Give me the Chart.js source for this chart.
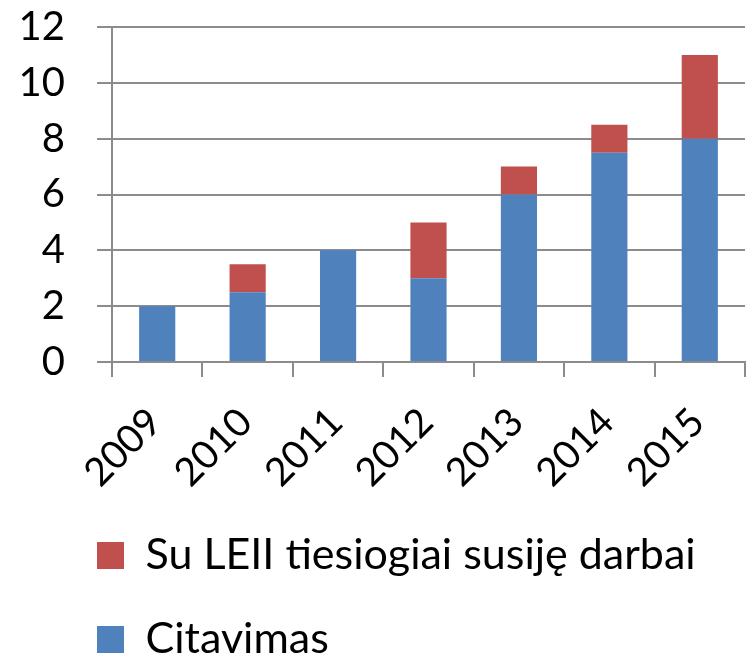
<!DOCTYPE html>
<html>
<head>
<meta charset="utf-8">
<script src="https://cdn.jsdelivr.net/npm/chart.js@4/dist/chart.umd.min.js"></script>
<style>
  html, body { margin: 0; padding: 0; background: #fff; }
  #wrap { width: 747px; height: 657px; }
</style>
</head>
<body>
<div id="wrap"><canvas id="chart"></canvas></div>
<script>
const years = ["2009", "2010", "2011", "2012", "2013", "2014", "2015"];
const citavimas = [2, 2.5, 4, 3, 6, 7.5, 8];
const susije = [0, 1, 0, 2, 1, 1, 3];
const yTicks = [0, 2, 4, 6, 8, 10, 12];

const FONT = "Lato, 'Open Sans', sans-serif";
const AXIS_GREY = "#8c8c8c";

// legend in the reference sits left-aligned under the plot, not centred
const legendShift = {
  id: "legendShift",
  beforeDraw(chart) {
    const lg = chart.legend;
    const pad = lg.options.labels.padding;
    lg.left = 97 - pad;
    lg.top = 534 - pad;
    // let the rotated year labels run past the reserved axis box without being clipped
    chart.scales.x.bottom = chart.height;
  }
};

new Chart(document.getElementById("chart").getContext("2d"), {
  type: "bar",
  data: {
    labels: years,
    datasets: [
      {
        label: "Citavimas",
        data: citavimas,
        backgroundColor: "#4f81bd",
        barPercentage: 0.4,
        categoryPercentage: 1
      },
      {
        label: "Su LEII tiesiogiai susiję darbai",
        data: susije,
        backgroundColor: "#c0504d",
        barPercentage: 0.4,
        categoryPercentage: 1
      }
    ]
  },
  options: {
    responsive: true,
    maintainAspectRatio: false,
    animation: false,
    layout: { padding: { left: 0, right: 2, top: 0, bottom: 0 } },
    scales: {
      x: {
        stacked: true,
        grid: { drawOnChartArea: false, color: AXIS_GREY, lineWidth: 2, tickLength: 15 },
        border: { color: AXIS_GREY, width: 2 },
        ticks: {
          color: "#000",
          font: { family: FONT, size: 39 },
          minRotation: 45,
          maxRotation: 45,
          padding: 22,
          labelOffset: -2
        },
        afterFit(scale) {
          scale.height = 657 - 362 - scale.chart.legend.height;
          scale.paddingLeft = 0;
          scale.paddingRight = 0;
        }
      },
      y: {
        stacked: true,
        min: 0,
        max: 12,
        afterBuildTicks(scale) {
          scale.ticks = yTicks.map(v => ({ value: v }));
        },
        grid: { color: AXIS_GREY, lineWidth: 2, tickLength: 15 },
        border: { color: AXIS_GREY, width: 2 },
        ticks: {
          color: "#000",
          font: { family: FONT, size: 40 },
          padding: 32
        },
        afterFit(scale) {
          scale.width = 112;
          // tick padding would otherwise also push the plot top down
          scale.paddingTop = 27;
          scale.paddingBottom = 24;
        }
      }
    },
    plugins: {
      tooltip: { enabled: false },
      legend: {
        position: "bottom",
        align: "start",
        reverse: true,
        labels: {
          color: "#000",
          font: { family: FONT, size: 43 },
          boxWidth: 27,
          boxHeight: 27,
          padding: 41
        }
      }
    }
  },
  plugins: [legendShift]
});
</script>
</body>
</html>
